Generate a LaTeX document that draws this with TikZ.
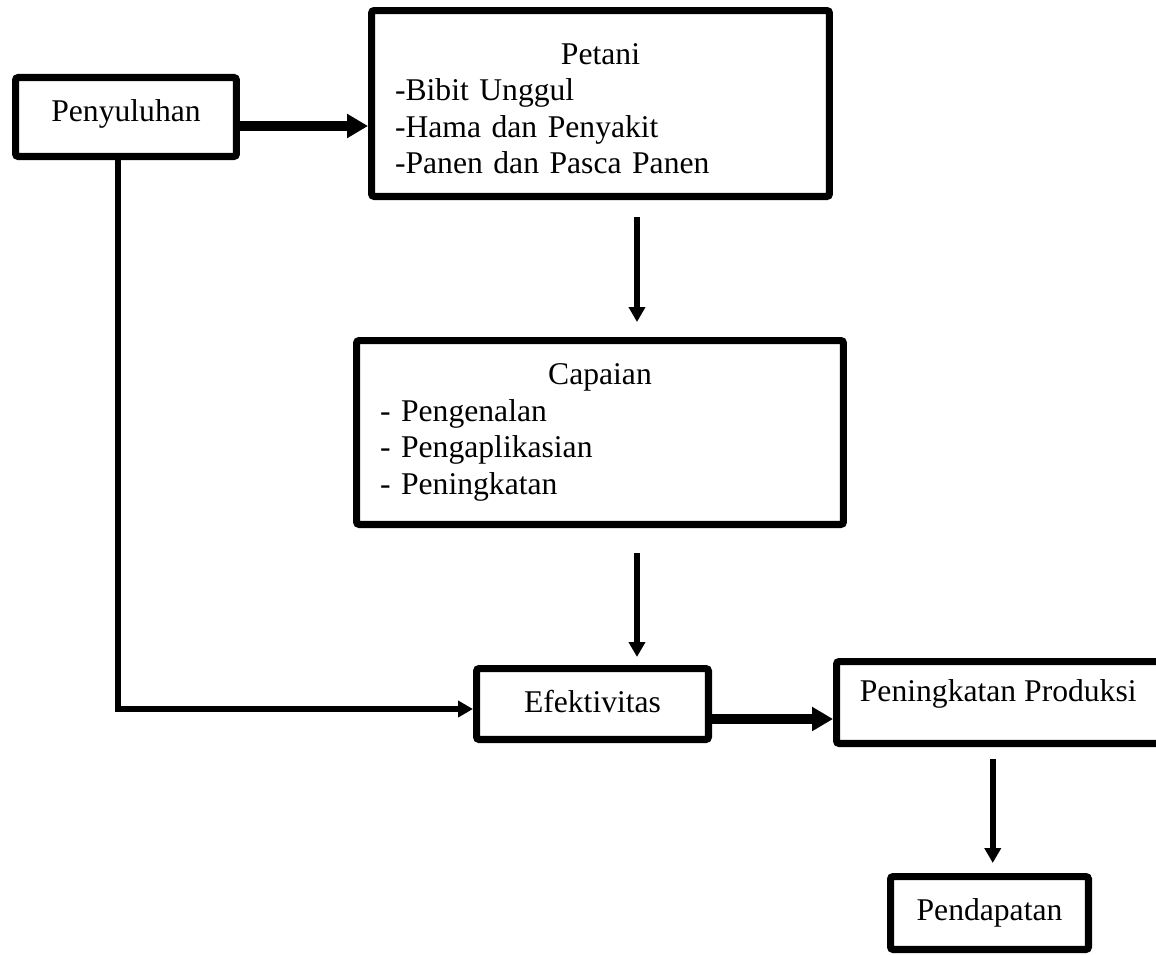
\documentclass[tikz,border=0pt]{standalone}
\usepackage{fontspec}
\setmainfont{Liberation Serif}
\usetikzlibrary{arrows.meta}
\setlength{\parindent}{0pt}

\begin{document}
\begin{tikzpicture}[x=0.02cm, y=-0.02cm,
    box/.style={draw, line width=4pt, rounded corners=1.5pt, font=\fontsize{18pt}{20.8pt}\selectfont},
    listbox/.style={box, align=left, inner xsep=0.47cm},
    thinarrow/.style={line width=3.2pt, -{Triangle[width=0.32cm, length=0.3cm]}},
    thickarrow/.style={line width=6pt, -{Triangle[width=0.46cm, length=0.42cm]}}]
    \useasboundingbox (0,0) rectangle (1156,954);

    % Boxes
    \node[box, minimum width=4.42cm, minimum height=1.58cm, text depth=7.5pt] (peny) at (126,117) {Penyuluhan};
    \node[listbox, minimum width=9.16cm, minimum height=3.72cm, text width=8.22cm] (petani) at (600.5,103.5)
      {\centering\rule{0pt}{18pt}Petani\par\raggedright -Bibit Unggul\\-Hama dan Penyakit\\-Panen dan Pasca Panen};
    \node[listbox, minimum width=9.74cm, minimum height=3.68cm, text width=8.8cm] (capaian) at (600,432.5)
      {\centering Capaian\par\raggedright - Pengenalan\\- Pengaplikasian\\- Peningkatan};
    \node[box, minimum width=4.64cm, minimum height=1.42cm, text depth=3pt] (efek) at (592.5,704) {Efektivitas};
    \node[box, minimum width=6.47cm, minimum height=1.64cm, text height=12pt, text depth=13pt] (prod) at (998.25,702.5) {Peningkatan Produksi};
    \node[box, minimum width=3.96cm, minimum height=1.46cm] (pend) at (989.5,913) {Pendapatan};

    % Connectors
    \coordinate (a1) at ([yshift=-0.18cm]peny.east);
    \draw[thickarrow] (a1) -- (a1 -| petani.west);

    \coordinate (a2) at ([xshift=0.73cm]petani.south);
    \draw[thinarrow, shorten <=0.34cm, shorten >=0.3cm] (a2) -- (a2 |- capaian.north);

    \coordinate (a3) at ([xshift=0.74cm]capaian.south);
    \draw[thinarrow, shorten <=0.5cm, shorten >=0.16cm] (a3) -- (a3 |- efek.north);

    \coordinate (b1) at ([xshift=-0.16cm]peny.south);
    \coordinate (b2) at ([yshift=-0.1cm]efek.west);
    \draw[thinarrow] (b1) |- (b2);

    \coordinate (c1) at ([yshift=-0.3cm]efek.east);
    \draw[thickarrow] (c1) -- (c1 -| prod.west);

    \coordinate (c2) at ([xshift=-0.11cm]prod.south);
    \draw[thinarrow, shorten <=0.24cm, shorten >=0.2cm] (c2) -- (c2 |- pend.north);
\end{tikzpicture}
\end{document}
